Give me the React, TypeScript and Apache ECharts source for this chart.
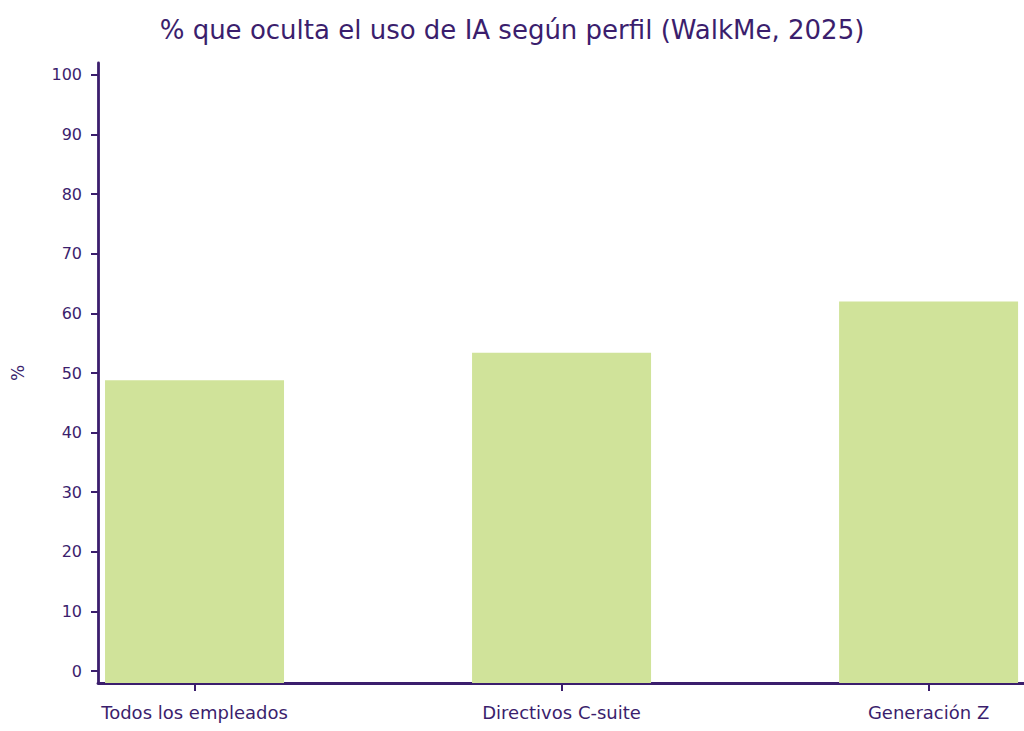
import React, { useEffect, useRef } from "react";
import * as echarts from "echarts";

const title = "% que oculta el uso de IA según perfil (WalkMe, 2025)";
const categories = ["Todos los empleados", "Directivos C-suite", "Generación Z"];
const values = [48.8, 53.4, 62.0];
const yTicks = [0, 10, 20, 30, 40, 50, 60, 70, 80, 90, 100];
const yMin = -2;
const yMax = 102;

const INK = "#3b1e6d";
const BAR = "#d0e39a";
const FONT = "DejaVu Sans";

export default function App() {
  const ref = useRef<HTMLDivElement>(null);
  useEffect(() => {
    if (!ref.current) return;
    const chart = echarts.init(ref.current, undefined, { renderer: "svg" });
    const xs = categories.map((_, i) => i);
    chart.setOption({
      animation: false,
      backgroundColor: "#ffffff",
      title: {
        text: title,
        left: "center",
        top: 12,
        textStyle: { color: INK, fontFamily: FONT, fontSize: 26, fontWeight: "normal" },
      },
      grid: { left: 98, right: 0, top: 63, bottom: 48, containLabel: false },
      xAxis: {
        type: "value",
        min: -0.263,
        max: 2.26,
        splitLine: { show: false },
        axisLine: { show: true, onZero: false, lineStyle: { color: INK, width: 2.8 } },
        axisTick: { show: true, customValues: xs, length: 8, lineStyle: { color: INK, width: 2 } },
        axisLabel: {
          customValues: xs,
          color: INK,
          fontFamily: FONT,
          fontSize: 18,
          margin: 20,
          formatter: (v: number) => categories[Math.round(v)] ?? "",
        },
      },
      yAxis: {
        type: "value",
        min: yMin,
        max: yMax,
        name: "%",
        nameLocation: "middle",
        nameRotate: 90,
        nameGap: 72,
        nameTextStyle: { color: INK, fontFamily: FONT, fontSize: 17 },
        splitLine: { show: false },
        axisLine: { show: true, onZero: false, lineStyle: { color: INK, width: 2.8 } },
        axisTick: { show: true, customValues: yTicks, length: 7, lineStyle: { color: INK, width: 2 } },
        axisLabel: {
          customValues: yTicks,
          color: INK,
          fontFamily: FONT,
          fontSize: 16,
          margin: 16,
        },
      },
      series: [
        {
          type: "bar",
          name: "base",
          stack: "s",
          barWidth: 179,
          silent: true,
          itemStyle: { color: BAR },
          data: xs.map((x) => [x, yMin]),
        },
        {
          type: "bar",
          name: "% que oculta el uso de IA",
          stack: "s",
          barWidth: 179,
          itemStyle: { color: BAR },
          data: xs.map((x) => [x, values[x]]),
        },
      ],
    });
    return () => chart.dispose();
  }, []);
  return <div ref={ref} style={{ width: 1024, height: 731, position: "absolute", left: 0, top: 0 }} />;
}
